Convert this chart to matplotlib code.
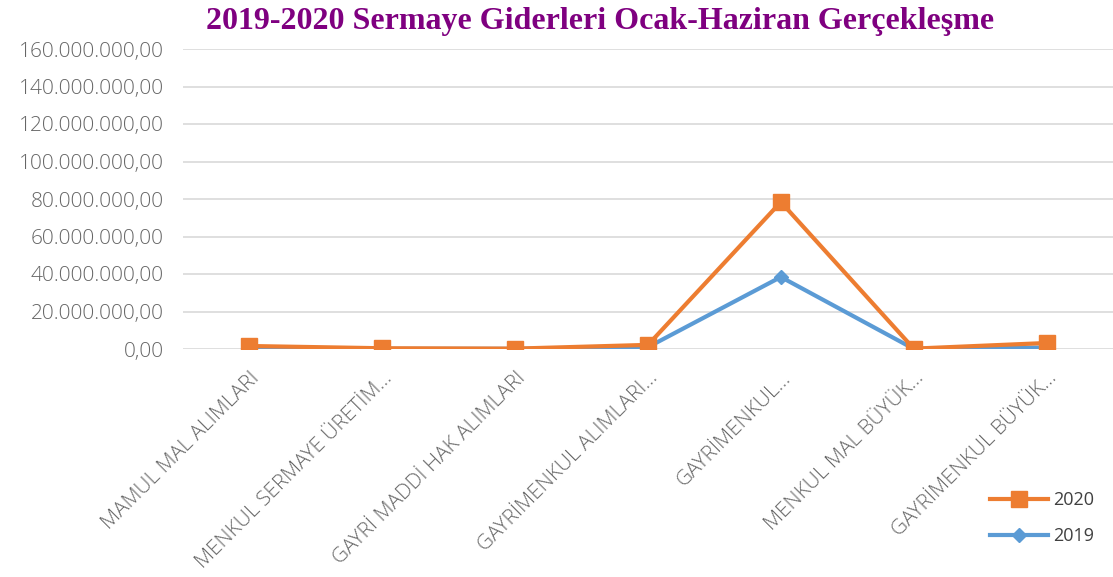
import matplotlib
matplotlib.use("Agg")
import matplotlib.pyplot as plt
from matplotlib.ticker import FuncFormatter, MultipleLocator

categories = ["MAMUL MAL ALIMLARI", "MENKUL SERMAYE ÜRETİM…", "GAYRİ MADDİ HAK ALIMLARI",
              "GAYRİMENKUL ALIMLARI…", "GAYRİMENKUL…", "MENKUL MAL BÜYÜK…",
              "GAYRİMENKUL BÜYÜK…"]
values_2020 = [1.6e6, 0.4e6, 0.2e6, 2.2e6, 78.4e6, 0.2e6, 3.2e6]
values_2019 = [0.3e6, 0.1e6, 0.1e6, 1.0e6, 38.4e6, 0.1e6, 0.8e6]

plt.rcParams['font.family'] = ['Open Sans', 'DejaVu Sans']


def tr_fmt(v, pos):
    s = f"{v:,.2f}"
    return s.replace(",", "X").replace(".", ",").replace("X", ".")


fig = plt.figure(figsize=(11.13, 5.77), dpi=100)
ax = fig.add_axes([183 / 1113, 1 - 349 / 577, 930 / 1113, 300 / 577])

x = list(range(len(categories)))
ax.plot(x, values_2019, color='#5B9BD5', lw=3, marker='D', markersize=7,
        label='2019', zorder=3)
ax.plot(x, values_2020, color='#ED7D31', lw=3, marker='s', markersize=11,
        label='2020', zorder=4)

ax.set_xlim(-0.5, len(categories) - 0.5)
ax.set_ylim(0, 160e6)
ax.yaxis.set_major_locator(MultipleLocator(20e6))
ax.yaxis.set_major_formatter(FuncFormatter(tr_fmt))
ax.grid(axis='y', color='#d9d9d9', lw=1.2)
ax.set_axisbelow(True)
for s in ax.spines.values():
    s.set_visible(False)
ax.tick_params(axis='both', length=0, colors='#666666', labelsize=15)
ax.tick_params(axis='y', pad=14)
ax.set_xticks(x)
ax.set_xticklabels(categories, rotation=45, ha='right', rotation_mode='anchor')
ax.tick_params(axis='x', pad=14)
for t in ax.get_xticklabels() + ax.get_yticklabels():
    t.set_fontweight('light')

fig.text(600 / 1113, 1 - 22 / 577, "2019-2020 Sermaye Giderleri Ocak-Haziran Gerçekleşme",
         family='Liberation Serif', weight='bold', color='#7F0080',
         fontsize=23, ha='center', va='center')

h, l = ax.get_legend_handles_labels()
fig.legend(h[::-1], l[::-1], loc='center', bbox_to_anchor=(1042 / 1113, 1 - 518 / 577),
           frameon=False, fontsize=13, handlelength=3.2, labelspacing=1.0,
           handletextpad=0.3, labelcolor='#404040')

fig.savefig("out.png", dpi=100)
